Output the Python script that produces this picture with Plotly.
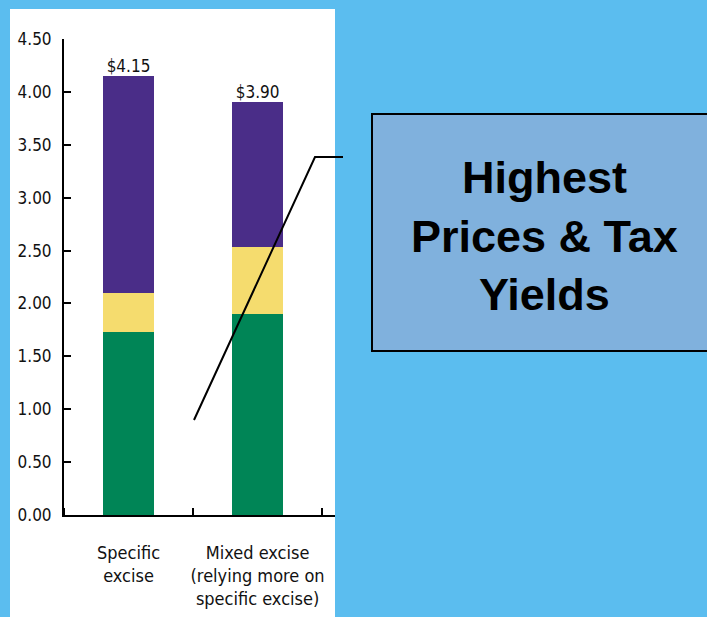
import plotly.graph_objects as go

categories = ["Specific<br>excise", "Mixed excise<br>(relying more on<br>specific excise)"]
green_vals = [1.73, 1.90]
yellow_vals = [0.37, 0.63]
purple_vals = [2.05, 1.37]
total_labels = ["$4.15", "$3.90"]
y_ticks = [0.0, 0.5, 1.0, 1.5, 2.0, 2.5, 3.0, 3.5, 4.0, 4.5]
callout_lines = ["Highest", "Prices & Tax", "Yields"]

W, H = 707, 617
L, R, T, B = 64, 335, 39, 515  # plot area pixel bounds

def px(x):
    return (x - L) / (R - L)

def py(y):
    return (B - y) / (B - T)

xpos = list(range(len(categories)))
totals = [g + y + p for g, y, p in zip(green_vals, yellow_vals, purple_vals)]

narrow = "DejaVu Sans Condensed, Liberation Sans Narrow, Arial Narrow, sans-serif"

fig = go.Figure()
fig.add_trace(go.Bar(x=xpos, y=green_vals, marker=dict(color="#008556", line=dict(width=0)), width=0.4))
fig.add_trace(go.Bar(x=xpos, y=yellow_vals, marker=dict(color="#F5DC6E", line=dict(width=0)), width=0.4))
fig.add_trace(go.Bar(x=xpos, y=purple_vals, marker=dict(color="#4A2D88", line=dict(width=0)), width=0.4))
fig.add_trace(go.Scatter(x=xpos, y=totals, mode="text", text=total_labels,
                         textposition="top center",
                         textfont=dict(family=narrow, size=17, color="#111111"),
                         cliponaxis=False))

shapes = [
    # white panel
    dict(type="rect", xref="paper", yref="paper", x0=px(10), x1=px(335), y0=py(640), y1=py(9),
         fillcolor="white", line=dict(width=0), layer="below"),
    # callout box
    dict(type="rect", xref="paper", yref="paper", x0=px(372), x1=px(720), y0=py(351), y1=py(114),
         fillcolor="#80B1DD", line=dict(color="black", width=2), layer="above"),
    # leader line
    dict(type="path", xref="paper", yref="paper",
         path=f"M {px(194)} {py(420)} L {px(315)} {py(157)} L {px(343)} {py(157)}",
         line=dict(color="black", width=2), layer="above"),
]

fig.add_annotation(xref="paper", yref="paper", x=px(544), y=py(236),
                   text="<b>" + "<br>".join(callout_lines) + "</b>", showarrow=False,
                   font=dict(family="Liberation Sans, Arial, sans-serif", size=45, color="black"),
                   align="center", xanchor="center", yanchor="middle")

fig.update_layout(
    width=W, height=H,
    margin=dict(l=L, r=W - R, t=T, b=H - B, pad=0, autoexpand=False),
    paper_bgcolor="#5BBDEF",
    plot_bgcolor="rgba(0,0,0,0)",
    barmode="stack",
    bargap=0,
    showlegend=False,
    shapes=shapes,
    xaxis=dict(range=[-0.5, 1.6], tickvals=xpos, ticktext=categories, ticks="",
               showline=True, linecolor="black", linewidth=2, showgrid=False, zeroline=False,
               tickfont=dict(family=narrow, size=18, color="#111111"),
               minor=dict(tickmode="array", tickvals=[-0.5, 0.5, 1.5], ticks="inside", ticklen=7,
                          tickcolor="black", tickwidth=2, showgrid=False),
               ticklabelstandoff=20, automargin=False, fixedrange=True),
    yaxis=dict(range=[0, 4.5], tickvals=y_ticks, ticktext=[f"{v:.2f}" for v in y_ticks],
               ticks="inside", ticklen=7, tickcolor="black", tickwidth=2,
               showline=True, linecolor="black", linewidth=2, showgrid=False, zeroline=False,
               tickfont=dict(family=narrow, size=17, color="#111111"), ticklabelstandoff=7,
               automargin=False, fixedrange=True),
)

fig.write_html("out.html")
